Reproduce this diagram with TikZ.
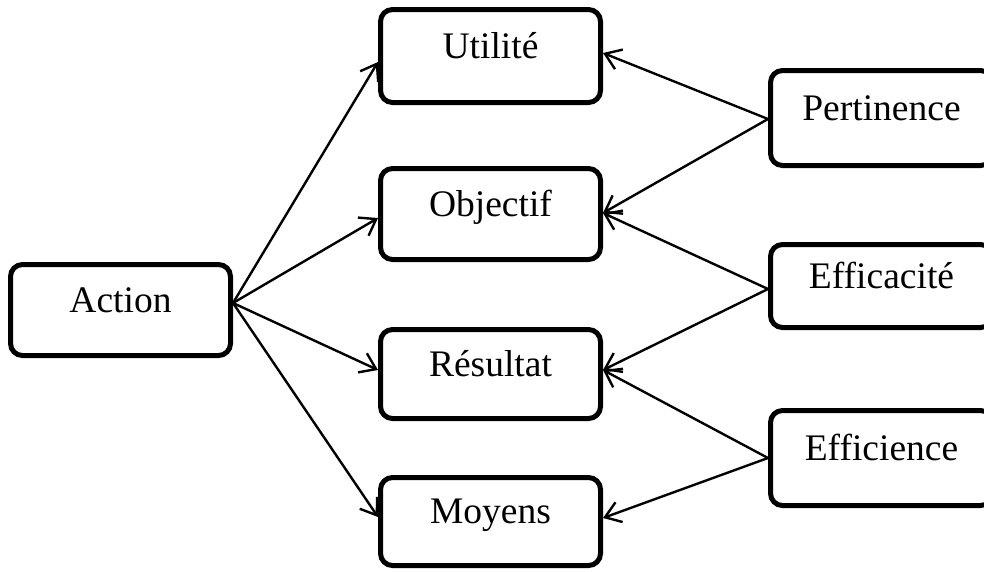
\documentclass[tikz,border=0pt]{standalone}
\usepackage{fontspec}
\setmainfont{Liberation Serif}
\usetikzlibrary{arrows.meta,calc}
\begin{document}
\begin{tikzpicture}[x=1pt,y=-1pt,
  box/.style={draw=black,line width=5pt,rounded corners=12pt,fill=white,
    minimum width=220pt,inner sep=0pt,
    font=\fontsize{37.5}{40}\selectfont,text height=25pt,text depth=21pt},
  link/.style={line width=2.4pt,-{Straight Barb[length=15pt,width=21pt,line width=2.4pt]}}]
\useasboundingbox (0,0) rectangle (984,571);
\clip (0,0) rectangle (984,571);
\node[box,minimum height=91pt] (act) at (120.5,310) {Action};
\node[box,minimum height=93pt] (ut) at (490.5,56) {Utilité};
\node[box,minimum height=91pt] (obj) at (490.5,214) {Objectif};
\node[box,minimum height=89pt] (res) at (490.5,374) {Résultat};
\node[box,minimum height=88pt] (moy) at (490.5,521.5) {Moyens};
\node[box,minimum height=95pt,minimum width=222pt] (per) at (881.5,118) {Pertinence};
\node[box,minimum height=83pt,minimum width=222pt] (eff) at (881.5,286) {Efficacité};
\node[box,minimum height=95pt,minimum width=222pt] (efn) at (881.5,458) {Efficience};
% from Action
\draw[link] ($(act.east)+(0,-7)$) -- ($(ut.west)+(0,6)$);
\draw[link] ($(act.east)+(0,-7)$) -- ($(obj.west)+(0,4)$);
\draw[link] ($(act.east)+(0,-7)$) -- ($(res.west)+(0,-4)$);
\draw[link] ($(act.east)+(0,-7)$) -- ($(moy.west)+(0,-4.5)$);
% from right boxes
\draw[link] ($(per.west)+(0,1)$) -- ($(ut.east)+(0,-3)$);
\draw[link] ($(per.west)+(0,1)$) -- ($(obj.east)+(0,-1)$);
\draw[link] ($(eff.west)+(0,3)$) -- ($(obj.east)+(0,-1)$);
\draw[link] ($(eff.west)+(0,3)$) -- ($(res.east)+(0,-4)$);
\draw[link] (efn.west) -- ($(res.east)+(0,-4)$);
\draw[link] (efn.west) -- ($(moy.east)+(0,-3.5)$);
\end{tikzpicture}
\end{document}
